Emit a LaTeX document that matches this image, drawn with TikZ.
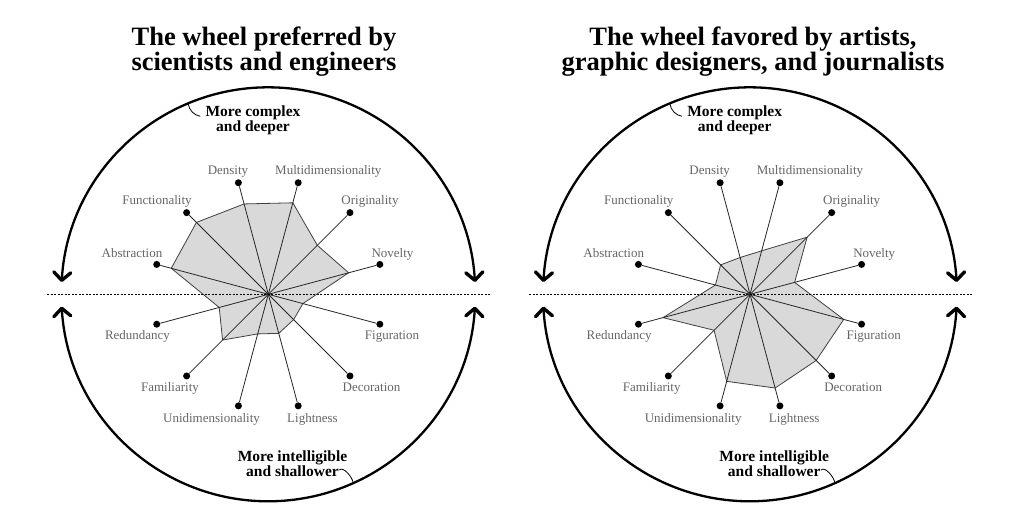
\documentclass[tikz,border=0pt]{standalone}
\usepackage{fontspec}
\setmainfont{Liberation Serif}
\usetikzlibrary{arrows.meta,calc}

\tikzset{
  lbl/.style={text=black!60, font=\fontsize{13}{13}\selectfont, inner sep=0pt, anchor=base},
  dotnode/.style={circle, fill=black, inner sep=0pt, minimum size=7pt},
  spoke/.style={draw=black!85, line width=0.8pt},
  poly/.style={fill=black!15, draw=black!75, line width=0.8pt, line join=round},
  barbtip/.tip={Straight Barb[length=8pt,width=17pt,line width'=3.4pt,round]},
  rim/.style={line width=2.3pt, barbtip-barbtip},
  hline/.style={line width=0.7pt, dash pattern=on 2pt off 1.5pt},
  note/.style={font=\bfseries\fontsize{15.5}{14}\selectfont, align=center, inner sep=0pt},
  tick/.style={line width=0.8pt},
  title/.style={font=\bfseries\fontsize{26.5}{22}\selectfont, align=center, inner sep=0pt}
}

\newcommand\mywheel[3]{%
  \coordinate (#1c) at (#2,294.3);
  \foreach \i/\a in {1/15,2/45,3/75,4/105,5/135,6/165,7/195,8/225,9/255,10/285,11/315,12/345}
    \node[dotnode] (#1d\i) at ($(#1c)+(-\a:115.5)$) {};
  \foreach \i/\v in {#3}
    \coordinate (#1p\i) at ($(#1c)!\v!(#1d\i)$);
  \draw[poly] (#1p1) \foreach \i in {2,...,12}{-- (#1p\i)} -- cycle;
  \foreach \i in {1,...,12}
    \draw[spoke] (#1c) -- (#1d\i);
  \foreach \i/\t/\lx/\ly in {1/Novelty/124.2/-37.3, 2/Originality/101.7/-90.3,
      3/Multidimensionality/60/-120.3, 4/Density/-40.3/-120.3,
      5/Functionality/-111.3/-90.3, 6/Abstraction/-136.3/-37.3,
      7/Redundancy/-130.8/44.7, 8/Familiarity/-98.3/96.7,
      9/Unidimensionality/-56.8/127.7, 10/Lightness/44.2/127.7,
      11/Decoration/103.2/96.7, 12/Figuration/123.7/44.7}
    \node[lbl] (#1l\i) at ($(#1c)+(\lx,\ly)$) {\t};
  \coordinate (#1ha) at ($(#1c)+(-221,0)$);
  \coordinate (#1hb) at ($(#1c)+(222,0)$);
  \draw[hline] (#1ha) -- (#1hb);
  \draw[rim] ($(#1c)+(-176.6:207)$) arc[start angle=-176.6, end angle=-3.4, radius=207];
  \draw[rim] ($(#1c)+(176.6:207)$) arc[start angle=176.6, end angle=3.4, radius=207];
  \node[note] (#1top) at ($(#1c)+(-15.3,-174.3)$) {More complex\\and deeper};
  \coordinate (#1ta) at ($(#1c)+(-112.8:207)$);
  \coordinate (#1tb) at ($(#1c)+(-68,-178)$);
  \draw[tick] (#1ta) .. controls +(1,7) and +(-6,-1) .. (#1tb);
  \node[note] (#1bot) at ($(#1c)+(24.2,169.2)$) {More intelligible\\and shallower};
  \coordinate (#1ba) at ($(#1c)+(71,175.7)$);
  \coordinate (#1bb) at ($(#1c)+(65.75:207)$);
  \draw[tick] (#1ba) .. controls +(4,-4) and +(-1,-6) .. (#1bb);
}

\begin{document}
\begin{tikzpicture}[x=1pt,y=-1pt]
\fill[white] (0,0) rectangle (1024,512);
\useasboundingbox (0,0) rectangle (1024,512);
\node[title] (t1) at (264,52) {The wheel preferred by\\scientists and engineers};
\node[title] (t2) at (753,52) {The wheel favored by artists,\\graphic designers, and journalists};
\mywheel{L}{268.3}{1/0.72,2/0.60,3/0.82,4/0.81,5/0.88,6/0.87,7/0.44,8/0.56,9/0.355,10/0.35,11/0.31,12/0.31}
\mywheel{R}{750}{1/0.40,2/0.70,3/0.39,4/0.33,5/0.36,6/0.31,7/0.78,8/0.44,9/0.78,10/0.84,11/0.81,12/0.84}
\end{tikzpicture}
\end{document}
